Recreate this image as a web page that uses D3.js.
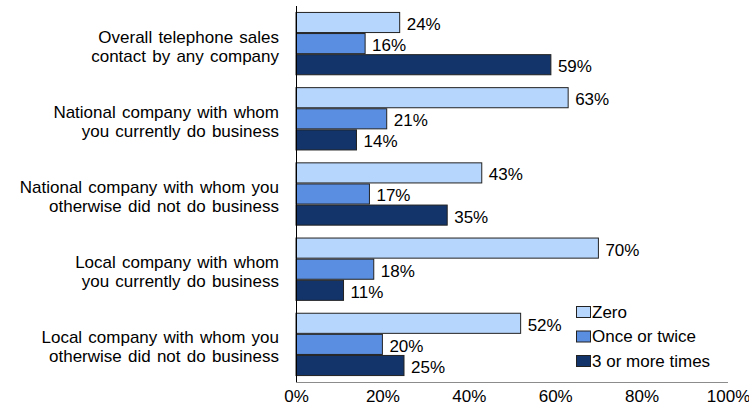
<!DOCTYPE html>
<html>
<head>
<meta charset="utf-8">
<script src="https://cdn.jsdelivr.net/npm/d3@7/dist/d3.min.js"></script>
<style>
  html, body { margin: 0; padding: 0; background: #fff; }
  svg { display: block; font-family: "Liberation Sans", Arial, sans-serif; }
</style>
</head>
<body>
<svg id="chart" width="749" height="409"></svg>
<script>
// Frequency of telephone sales contact, by type of company
const categories = [
  ["Overall telephone sales", "contact by any company"],
  ["National company with whom", "you currently do business"],
  ["National company with whom you", "otherwise did not do business"],
  ["Local company with whom", "you currently do business"],
  ["Local company with whom you", "otherwise did not do business"]
];
const seriesNames = ["Zero", "Once or twice", "3 or more times"];
const zero        = [0.24, 0.63, 0.43, 0.70, 0.52];
const onceTwice   = [0.16, 0.21, 0.17, 0.18, 0.20];
const threePlus   = [0.59, 0.14, 0.35, 0.11, 0.25];
const tickValues  = [0, 0.2, 0.4, 0.6, 0.8, 1.0];
const colors      = ["#b7d6fd", "#5a8ee0", "#12346a"];

const seriesValues = [zero, onceTwice, threePlus];
const catKeys = categories.map((c, i) => i);

const svg = d3.select("#chart");
const plotLeft = 296, plotRight = 728, plotTop = 6, plotBottom = 382;

const x = d3.scaleLinear().domain([0, 1]).range([plotLeft, plotRight]);
const y0 = d3.scaleBand().domain(catKeys).range([plotTop, plotBottom])
  .paddingInner(0.158).paddingOuter(0.079);
const y1 = d3.scaleBand().domain(d3.range(seriesNames.length))
  .range([0, y0.bandwidth()]);
const color = d3.scaleOrdinal().domain(d3.range(seriesNames.length)).range(colors);

// Bars
const groups = svg.append("g").selectAll("g")
  .data(catKeys).join("g")
  .attr("transform", d => `translate(0,${y0(d)})`);

groups.selectAll("rect")
  .data(ci => seriesValues.map((vals, si) => ({ si, v: vals[ci] })))
  .join("rect")
  .attr("x", x(0))
  .attr("y", d => y1(d.si) + 0.5)
  .attr("width", d => x(d.v) - x(0))
  .attr("height", y1.bandwidth() - 1)
  .attr("fill", d => color(d.si))
  .attr("stroke", "#222")
  .attr("stroke-width", 1);

// Value labels
groups.selectAll("text.val")
  .data(ci => seriesValues.map((vals, si) => ({ si, v: vals[ci] })))
  .join("text")
  .attr("class", "val")
  .attr("x", d => x(d.v) + 7)
  .attr("y", d => y1(d.si) + y1.bandwidth() / 2 + 1.5)
  .attr("dy", "0.35em")
  .attr("font-size", 17)
  .attr("fill", "#000")
  .text(d => d3.format(".0%")(d.v));

// Category labels (two lines each, right aligned)
const catLabels = svg.append("g").selectAll("text")
  .data(catKeys).join("text")
  .attr("text-anchor", "end")
  .attr("font-size", 17)
  .attr("word-spacing", 1.5)
  .attr("fill", "#000");
catLabels.selectAll("tspan")
  .data(ci => categories[ci].map((line, li) => ({ ci, line, li })))
  .join("tspan")
  .attr("x", 279)
  .attr("y", d => y0(d.ci) + y0.bandwidth() / 2 - 1 + d.li * 19)
  .text(d => d.line);

// Axes
const xAxis = d3.axisBottom(x).tickValues(tickValues)
  .tickFormat(d3.format(".0%")).tickSize(0).tickPadding(8);
const gx = svg.append("g").attr("transform", `translate(0,${plotBottom})`).call(xAxis);
gx.select(".domain").attr("stroke", "#8c8c8c").attr("d", `M${plotLeft},0.5H${plotRight}`);
gx.selectAll("text").attr("font-size", 17).attr("fill", "#000")
  .attr("font-family", "Liberation Sans, Arial, sans-serif");

const yAxis = d3.axisLeft(y0).tickValues([]).tickSize(0);
const gy = svg.append("g").attr("transform", `translate(${plotLeft},0)`).call(yAxis);
gy.select(".domain").attr("stroke", "#000").attr("d", `M0.5,${plotTop}V${plotBottom}`);

// Legend
const legend = svg.append("g").attr("transform", "translate(576,312)");
const items = legend.selectAll("g").data(seriesNames).join("g")
  .attr("transform", (d, i) => `translate(0,${i * 24.5})`);
items.append("rect")
  .attr("x", 0.5).attr("y", -5.5).attr("width", 14).attr("height", 11)
  .attr("fill", (d, i) => color(i)).attr("stroke", "#222");
items.append("text")
  .attr("x", 16).attr("y", 0).attr("dy", "0.35em")
  .attr("font-size", 17).attr("fill", "#000")
  .text(d => d);
</script>
</body>
</html>
